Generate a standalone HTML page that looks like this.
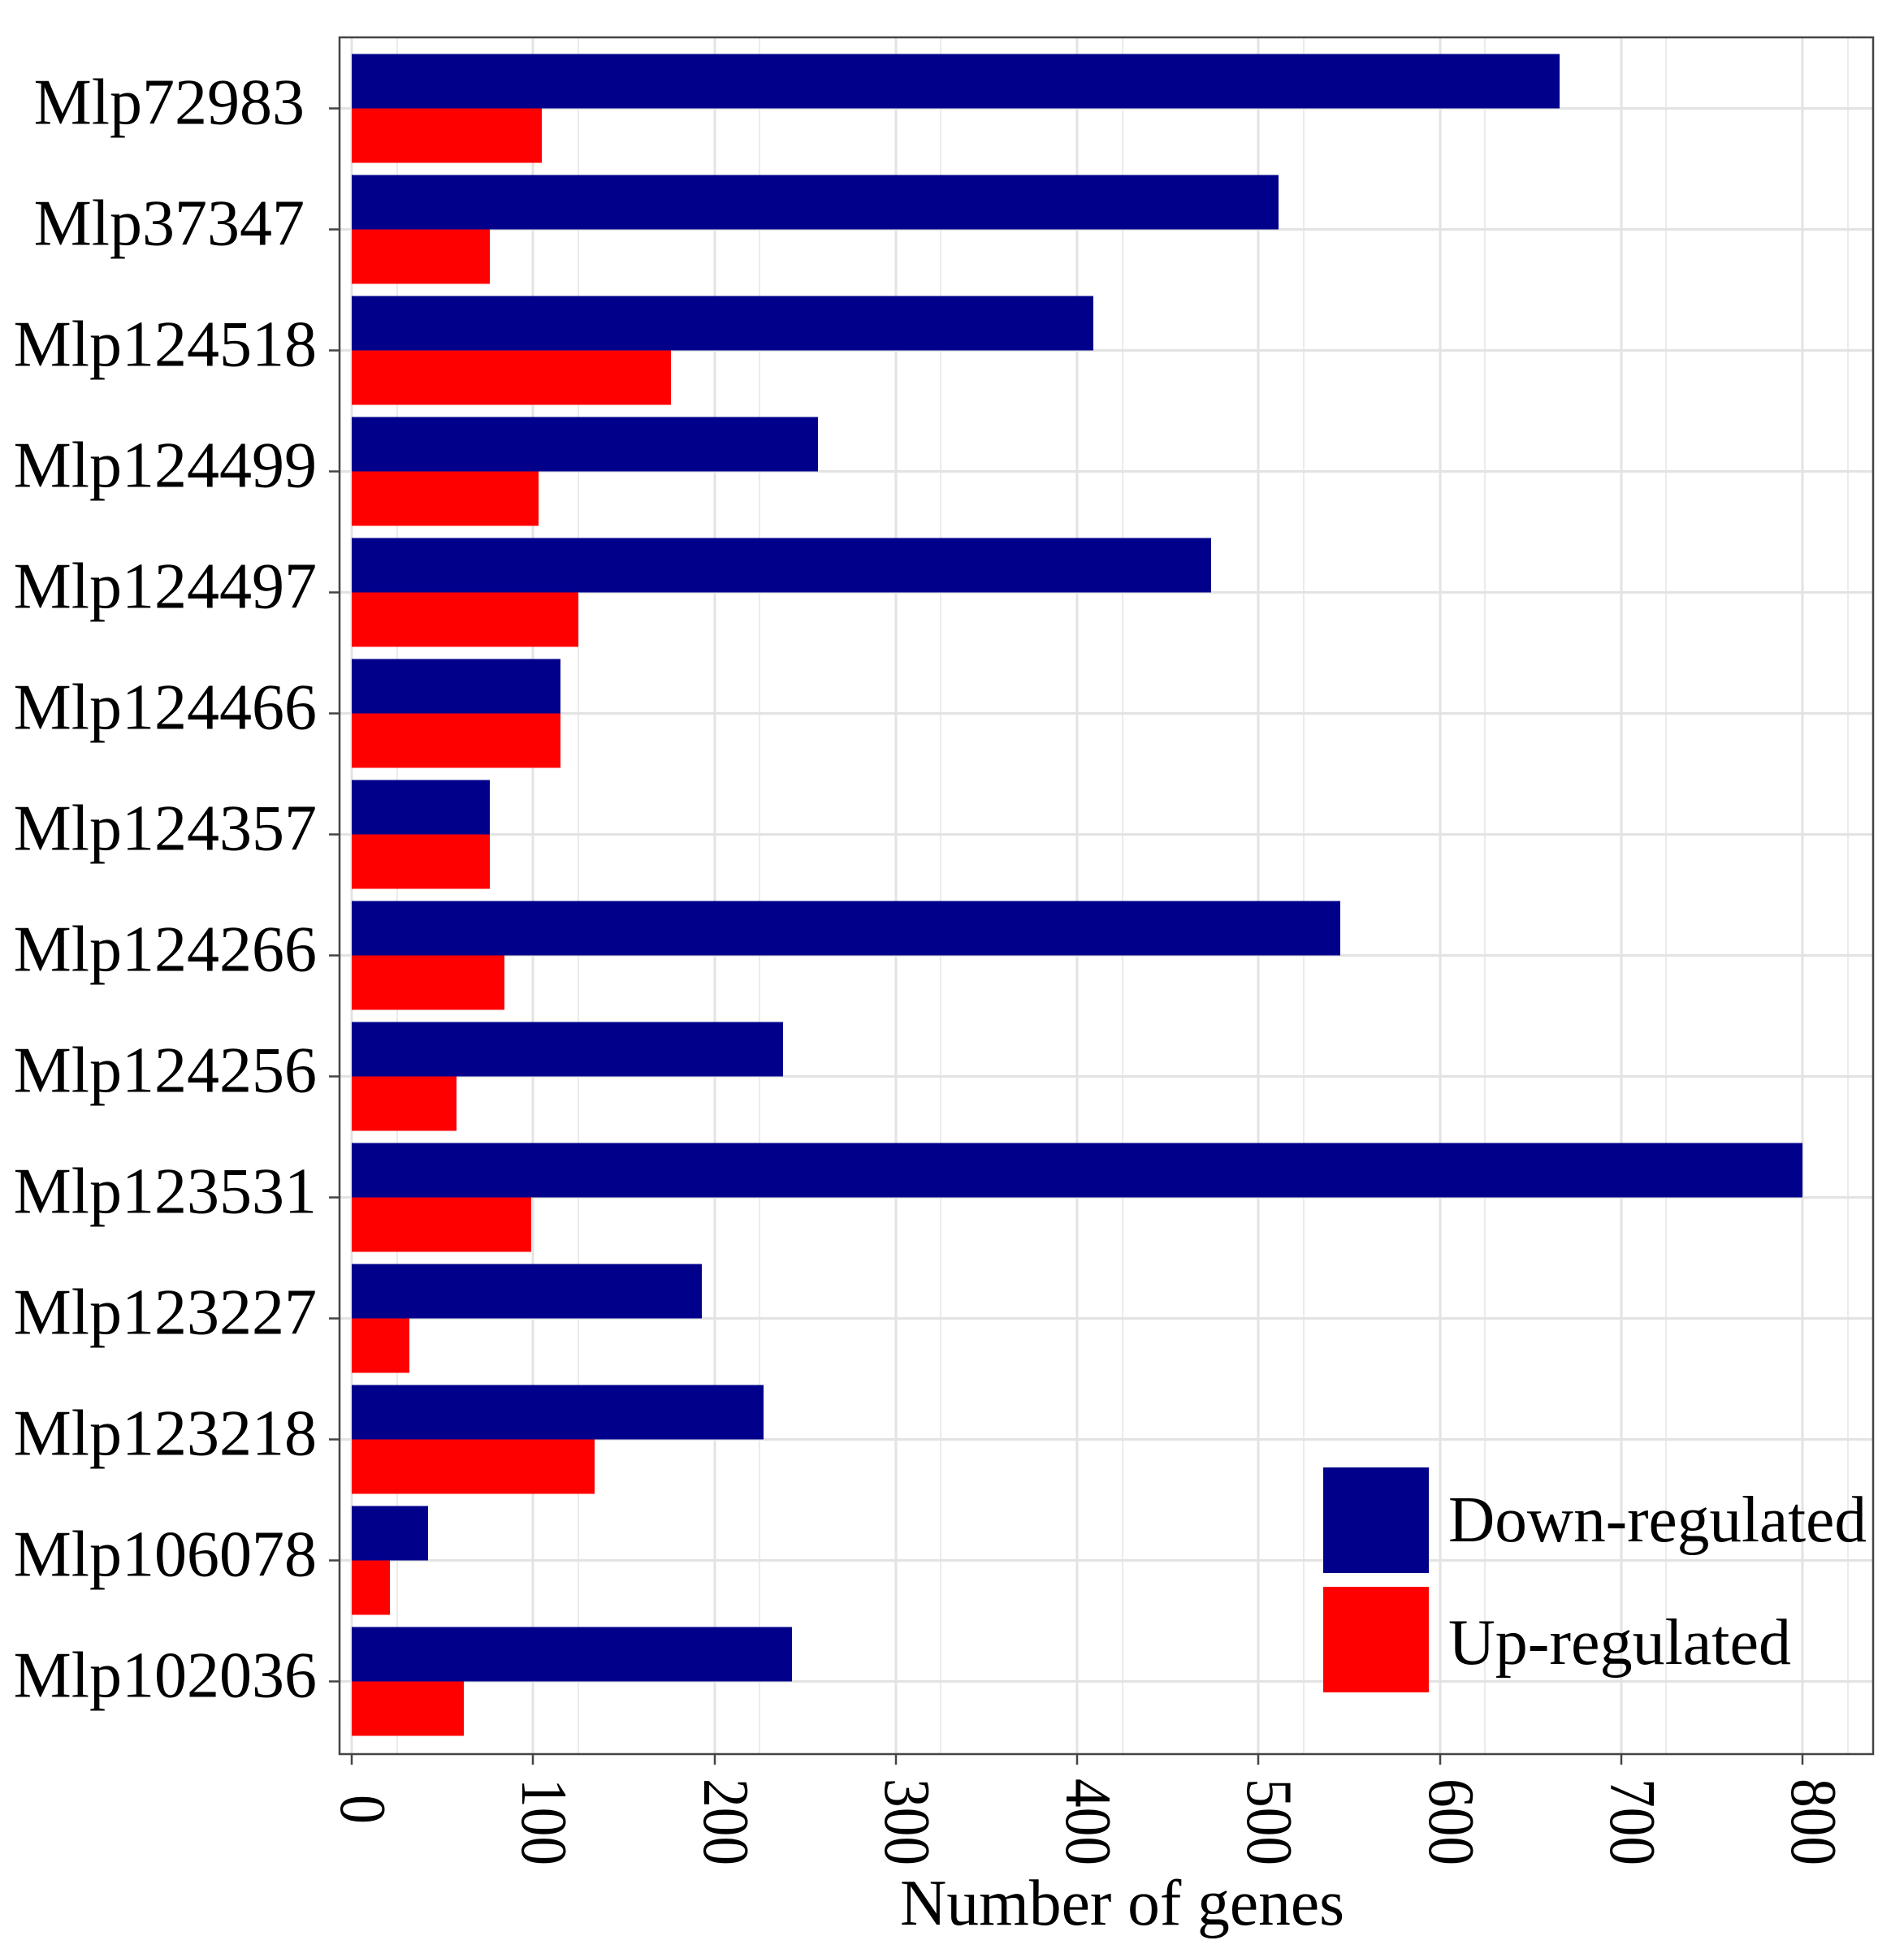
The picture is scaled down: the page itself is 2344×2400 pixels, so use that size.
<!DOCTYPE html>
<html><head><meta charset="utf-8"><style>html,body{margin:0;padding:0;background:#fff}svg{display:block}</style></head>
<body>
<svg width="2344" height="2400" viewBox="0 0 2344 2400" xmlns="http://www.w3.org/2000/svg" font-family="'Liberation Serif', serif">
<rect x="0" y="0" width="2344" height="2400" fill="#fff"/>
<g stroke="#ebebeb" stroke-width="2">
<line x1="489" y1="46" x2="489" y2="2160"/><line x1="712" y1="46" x2="712" y2="2160"/><line x1="935" y1="46" x2="935" y2="2160"/><line x1="1158" y1="46" x2="1158" y2="2160"/><line x1="1382" y1="46" x2="1382" y2="2160"/><line x1="1605" y1="46" x2="1605" y2="2160"/><line x1="1828" y1="46" x2="1828" y2="2160"/><line x1="2051" y1="46" x2="2051" y2="2160"/><line x1="2275" y1="46" x2="2275" y2="2160"/>
</g>
<g stroke="#e3e3e3" stroke-width="3">
<line x1="433" y1="46" x2="433" y2="2160"/><line x1="656" y1="46" x2="656" y2="2160"/><line x1="880" y1="46" x2="880" y2="2160"/><line x1="1103" y1="46" x2="1103" y2="2160"/><line x1="1326" y1="46" x2="1326" y2="2160"/><line x1="1549" y1="46" x2="1549" y2="2160"/><line x1="1773" y1="46" x2="1773" y2="2160"/><line x1="1996" y1="46" x2="1996" y2="2160"/><line x1="2219" y1="46" x2="2219" y2="2160"/>
<line x1="418" y1="133.5" x2="2306" y2="133.5"/><line x1="418" y1="282.5" x2="2306" y2="282.5"/><line x1="418" y1="431.5" x2="2306" y2="431.5"/><line x1="418" y1="580.5" x2="2306" y2="580.5"/><line x1="418" y1="729.5" x2="2306" y2="729.5"/><line x1="418" y1="878.5" x2="2306" y2="878.5"/><line x1="418" y1="1027.5" x2="2306" y2="1027.5"/><line x1="418" y1="1176.5" x2="2306" y2="1176.5"/><line x1="418" y1="1325.5" x2="2306" y2="1325.5"/><line x1="418" y1="1474.5" x2="2306" y2="1474.5"/><line x1="418" y1="1623.5" x2="2306" y2="1623.5"/><line x1="418" y1="1772.5" x2="2306" y2="1772.5"/><line x1="418" y1="1921.5" x2="2306" y2="1921.5"/><line x1="418" y1="2070.5" x2="2306" y2="2070.5"/>
</g>
<g fill="#00008B">
<rect x="433" y="66.5" width="1487" height="67"/>
<rect x="433" y="215.5" width="1141" height="67"/>
<rect x="433" y="364.5" width="913" height="67"/>
<rect x="433" y="513.5" width="574" height="67"/>
<rect x="433" y="662.5" width="1058" height="67"/>
<rect x="433" y="811.5" width="257" height="67"/>
<rect x="433" y="960.5" width="170" height="67"/>
<rect x="433" y="1109.5" width="1217" height="67"/>
<rect x="433" y="1258.5" width="531" height="67"/>
<rect x="433" y="1407.5" width="1786" height="67"/>
<rect x="433" y="1556.5" width="431" height="67"/>
<rect x="433" y="1705.5" width="507" height="67"/>
<rect x="433" y="1854.5" width="94" height="67"/>
<rect x="433" y="2003.5" width="542" height="67"/>
</g>
<g fill="#FF0000">
<rect x="433" y="133.5" width="234" height="67"/>
<rect x="433" y="282.5" width="170" height="67"/>
<rect x="433" y="431.5" width="393" height="67"/>
<rect x="433" y="580.5" width="230" height="67"/>
<rect x="433" y="729.5" width="279" height="67"/>
<rect x="433" y="878.5" width="257" height="67"/>
<rect x="433" y="1027.5" width="170" height="67"/>
<rect x="433" y="1176.5" width="188" height="67"/>
<rect x="433" y="1325.5" width="129" height="67"/>
<rect x="433" y="1474.5" width="221" height="67"/>
<rect x="433" y="1623.5" width="71" height="67"/>
<rect x="433" y="1772.5" width="299" height="67"/>
<rect x="433" y="1921.5" width="47" height="67"/>
<rect x="433" y="2070.5" width="138" height="67"/>
</g>
<rect x="418" y="46" width="1888" height="2114" fill="none" stroke="#444" stroke-width="2.5"/>
<g stroke="#444" stroke-width="2.5">
<line x1="405" y1="133.5" x2="418" y2="133.5"/><line x1="405" y1="282.5" x2="418" y2="282.5"/><line x1="405" y1="431.5" x2="418" y2="431.5"/><line x1="405" y1="580.5" x2="418" y2="580.5"/><line x1="405" y1="729.5" x2="418" y2="729.5"/><line x1="405" y1="878.5" x2="418" y2="878.5"/><line x1="405" y1="1027.5" x2="418" y2="1027.5"/><line x1="405" y1="1176.5" x2="418" y2="1176.5"/><line x1="405" y1="1325.5" x2="418" y2="1325.5"/><line x1="405" y1="1474.5" x2="418" y2="1474.5"/><line x1="405" y1="1623.5" x2="418" y2="1623.5"/><line x1="405" y1="1772.5" x2="418" y2="1772.5"/><line x1="405" y1="1921.5" x2="418" y2="1921.5"/><line x1="405" y1="2070.5" x2="418" y2="2070.5"/>
<line x1="433" y1="2160" x2="433" y2="2173"/><line x1="656" y1="2160" x2="656" y2="2173"/><line x1="880" y1="2160" x2="880" y2="2173"/><line x1="1103" y1="2160" x2="1103" y2="2173"/><line x1="1326" y1="2160" x2="1326" y2="2173"/><line x1="1549" y1="2160" x2="1549" y2="2173"/><line x1="1773" y1="2160" x2="1773" y2="2173"/><line x1="1996" y1="2160" x2="1996" y2="2173"/><line x1="2219" y1="2160" x2="2219" y2="2173"/>
</g>
<g font-size="80" fill="#000" text-anchor="end">
<text x="375" y="152.5">Mlp72983</text>
<text x="375" y="301.5">Mlp37347</text>
<text x="390" y="450.5">Mlp124518</text>
<text x="390" y="599.5">Mlp124499</text>
<text x="390" y="748.5">Mlp124497</text>
<text x="390" y="897.5">Mlp124466</text>
<text x="390" y="1046.5">Mlp124357</text>
<text x="390" y="1195.5">Mlp124266</text>
<text x="390" y="1344.5">Mlp124256</text>
<text x="390" y="1493.5">Mlp123531</text>
<text x="390" y="1642.5">Mlp123227</text>
<text x="390" y="1791.5">Mlp123218</text>
<text x="390" y="1940.5">Mlp106078</text>
<text x="390" y="2089.5">Mlp102036</text>
</g>
<g font-size="80" fill="#000">
<text transform="translate(420,2210) rotate(90)" textLength="36" lengthAdjust="spacingAndGlyphs">0</text>
<text transform="translate(643,2190) rotate(90)" textLength="107" lengthAdjust="spacingAndGlyphs">100</text>
<text transform="translate(867,2190) rotate(90)" textLength="107" lengthAdjust="spacingAndGlyphs">200</text>
<text transform="translate(1090,2190) rotate(90)" textLength="107" lengthAdjust="spacingAndGlyphs">300</text>
<text transform="translate(1313,2190) rotate(90)" textLength="107" lengthAdjust="spacingAndGlyphs">400</text>
<text transform="translate(1536,2190) rotate(90)" textLength="107" lengthAdjust="spacingAndGlyphs">500</text>
<text transform="translate(1760,2190) rotate(90)" textLength="107" lengthAdjust="spacingAndGlyphs">600</text>
<text transform="translate(1983,2190) rotate(90)" textLength="107" lengthAdjust="spacingAndGlyphs">700</text>
<text transform="translate(2206,2190) rotate(90)" textLength="107" lengthAdjust="spacingAndGlyphs">800</text>
</g>
<text x="1108" y="2370" font-size="80" textLength="547" lengthAdjust="spacingAndGlyphs">Number of genes</text>
<rect x="1629" y="1807" width="130" height="130" fill="#00008B"/>
<rect x="1629" y="1954" width="130" height="130" fill="#FF0000"/>
<text x="1783" y="1898" font-size="80" textLength="515" lengthAdjust="spacingAndGlyphs">Down-regulated</text>
<text x="1783" y="2049" font-size="80">Up-regulated</text>
</svg>
</body></html>
